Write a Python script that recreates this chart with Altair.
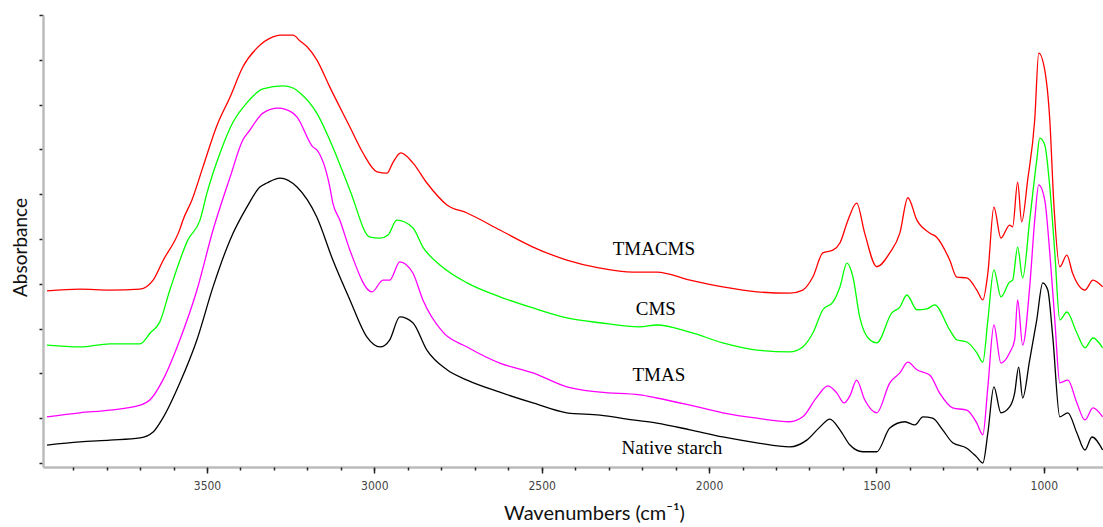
import altair as alt
import pandas as pd

# ---- data (wavenumber cm-1, absorbance a.u.) ----
tmacms_wn = [3978, 3880, 3790, 3700, 3661, 3632, 3581, 3572, 3545, 3512, 3470, 3431, 3393, 3351, 3303,
             3282, 3243, 3222, 3201, 3172, 3133, 3073, 3034, 2992, 2962, 2945, 2921, 2885, 2843, 2783,
             2723, 2625, 2526, 2425, 2326, 2228, 2156, 2057, 1959, 1857, 1759, 1720, 1690, 1660, 1630,
             1609, 1585, 1559, 1535, 1499, 1460, 1430, 1406, 1379, 1340, 1320, 1281, 1260, 1230, 1200,
             1182, 1167, 1149, 1128, 1102, 1093, 1078, 1066, 1048, 1027, 1015, 997, 982, 970, 952,
             931, 914, 877, 853, 824]
tmacms_abs = [0.384, 0.388, 0.386, 0.388, 0.408, 0.451, 0.522, 0.542, 0.587, 0.661, 0.754, 0.817, 0.884, 0.926, 0.951,
              0.955, 0.955, 0.942, 0.929, 0.900, 0.839, 0.750, 0.692, 0.650, 0.647, 0.670, 0.692, 0.670, 0.625, 0.576,
              0.558, 0.520, 0.482, 0.453, 0.435, 0.426, 0.426, 0.408, 0.393, 0.382, 0.379, 0.386, 0.415, 0.469, 0.475,
              0.491, 0.542, 0.580, 0.513, 0.438, 0.469, 0.513, 0.592, 0.542, 0.513, 0.504, 0.453, 0.415, 0.413, 0.386,
              0.364, 0.424, 0.571, 0.502, 0.531, 0.527, 0.627, 0.538, 0.632, 0.766, 0.915, 0.877, 0.766, 0.580, 0.438,
              0.464, 0.424, 0.386, 0.408, 0.393]

cms_wn = [3978, 3880, 3790, 3700, 3670, 3641, 3611, 3557, 3521, 3500, 3461, 3422, 3381, 3333, 3273,
          3243, 3222, 3172, 3124, 3073, 3013, 2983, 2959, 2933, 2885, 2855, 2804, 2723, 2625, 2526,
          2425, 2326, 2207, 2156, 2057, 1959, 1857, 1759, 1720, 1690, 1660, 1630, 1609, 1588, 1570,
          1550, 1520, 1499, 1454, 1430, 1409, 1379, 1349, 1326, 1281, 1260, 1230, 1200, 1182, 1167,
          1149, 1128, 1102, 1093, 1078, 1063, 1042, 1021, 1012, 997, 982, 967, 952, 931, 901,
          877, 853, 824]
cms_abs = [0.263, 0.259, 0.266, 0.266, 0.290, 0.315, 0.386, 0.498, 0.542, 0.603, 0.692, 0.761, 0.804, 0.835, 0.842,
           0.837, 0.826, 0.781, 0.705, 0.609, 0.504, 0.502, 0.509, 0.542, 0.525, 0.482, 0.442, 0.402, 0.371, 0.346,
           0.324, 0.313, 0.304, 0.308, 0.292, 0.268, 0.252, 0.248, 0.259, 0.290, 0.342, 0.359, 0.393, 0.446, 0.415,
           0.326, 0.275, 0.268, 0.335, 0.348, 0.375, 0.342, 0.344, 0.353, 0.297, 0.275, 0.270, 0.246, 0.225, 0.319,
           0.431, 0.371, 0.404, 0.408, 0.482, 0.413, 0.542, 0.676, 0.725, 0.710, 0.616, 0.469, 0.319, 0.337, 0.290,
           0.257, 0.279, 0.257]

tmas_wn = [3978, 3880, 3790, 3700, 3670, 3632, 3581, 3530, 3482, 3431, 3393, 3372, 3351, 3333, 3288,
           3243, 3231, 3183, 3172, 3133, 3124, 3103, 3073, 3007, 2974, 2954, 2924, 2885, 2855, 2795,
           2723, 2625, 2526, 2425, 2326, 2207, 2156, 2057, 1959, 1857, 1759, 1720, 1678, 1645, 1618,
           1597, 1579, 1559, 1535, 1499, 1460, 1430, 1406, 1379, 1340, 1311, 1272, 1230, 1200, 1182,
           1167, 1149, 1128, 1102, 1087, 1078, 1063, 1042, 1027, 1015, 997, 982, 967, 952, 928,
           901, 877, 853, 824]
tmas_abs = [0.103, 0.112, 0.118, 0.129, 0.141, 0.185, 0.275, 0.386, 0.520, 0.638, 0.721, 0.743, 0.766, 0.781, 0.792,
            0.781, 0.772, 0.705, 0.699, 0.616, 0.580, 0.542, 0.475, 0.382, 0.408, 0.408, 0.449, 0.424, 0.364, 0.292,
            0.259, 0.223, 0.201, 0.170, 0.158, 0.152, 0.145, 0.129, 0.112, 0.100, 0.092, 0.103, 0.147, 0.172, 0.156,
            0.134, 0.150, 0.185, 0.141, 0.112, 0.179, 0.201, 0.225, 0.208, 0.196, 0.156, 0.123, 0.118, 0.089, 0.063,
            0.170, 0.308, 0.223, 0.246, 0.275, 0.364, 0.263, 0.393, 0.542, 0.621, 0.587, 0.469, 0.319, 0.179, 0.185,
            0.134, 0.096, 0.123, 0.103]

native_wn = [3978, 3880, 3790, 3700, 3661, 3632, 3581, 3530, 3482, 3431, 3381, 3342, 3321, 3282, 3231,
             3172, 3124, 3073, 3022, 2983, 2954, 2924, 2885, 2843, 2783, 2723, 2625, 2526, 2425, 2326,
             2228, 2156, 2057, 1959, 1857, 1759, 1708, 1669, 1639, 1609, 1579, 1541, 1499, 1460, 1415,
             1385, 1361, 1332, 1302, 1272, 1230, 1200, 1182, 1167, 1149, 1128, 1102, 1087, 1075, 1063,
             1042, 1021, 1003, 988, 973, 952, 928, 901, 877, 856, 824]
native_abs = [0.040, 0.047, 0.051, 0.056, 0.069, 0.100, 0.179, 0.275, 0.393, 0.498, 0.571, 0.616, 0.625, 0.636, 0.616,
              0.549, 0.453, 0.364, 0.281, 0.259, 0.275, 0.326, 0.313, 0.252, 0.208, 0.185, 0.158, 0.134, 0.112, 0.107,
              0.096, 0.089, 0.074, 0.058, 0.045, 0.036, 0.051, 0.080, 0.098, 0.074, 0.040, 0.025, 0.025, 0.078, 0.092,
              0.085, 0.103, 0.100, 0.074, 0.045, 0.033, 0.013, 0.000, 0.067, 0.170, 0.112, 0.125, 0.156, 0.214, 0.145,
              0.230, 0.319, 0.402, 0.386, 0.281, 0.103, 0.112, 0.067, 0.029, 0.058, 0.029]

series_names = ["TMACMS", "CMS", "TMAS", "Native starch"]
series_colors = ["#ff0000", "#00ff00", "#ff00ff", "#000000"]

label_text = ["TMACMS", "CMS", "TMAS", "Native starch"]
label_wn = [2165, 2159, 2150, 2111]
label_abs = [0.478, 0.344, 0.196, 0.033]

major_ticks = [1000, 1500, 2000, 2500, 3000, 3500]
minor_ticks = list(range(900, 4000, 100))
y_ticks = [0.0, 0.1, 0.2, 0.3, 0.4, 0.5, 0.6, 0.7, 0.8, 0.9, 1.0]

# ---- build table ----
rows = []
for name, wn, ab in zip(series_names,
                        [tmacms_wn, cms_wn, tmas_wn, native_wn],
                        [tmacms_abs, cms_abs, tmas_abs, native_abs]):
    for w, a in zip(wn, ab):
        rows.append({"series": name, "wn": w, "abs": a})
df = pd.DataFrame(rows)
labels_df = pd.DataFrame({"text": label_text, "wn": label_wn, "abs": label_abs})

x_scale = alt.Scale(domain=[823, 3990], reverse=True, nice=False, zero=False)
y_scale = alt.Scale(domain=[-0.009, 1.0], nice=False, zero=False)

# minor ticks (every 100 cm-1) drawn by an invisible layer's own axis
minor = alt.Chart(df).mark_line(opacity=0).encode(
    x=alt.X("wn:Q", scale=x_scale,
            axis=alt.Axis(values=minor_ticks, orient="bottom", labels=False, title=None,
                          domain=False, grid=False, tickSize=3, tickColor="#222222", tickWidth=1.5)),
    y=alt.Y("abs:Q", scale=y_scale, axis=None),
    detail="series:N",
)

lines = alt.Chart(df).mark_line(strokeWidth=1.3, interpolate="monotone").encode(
    x=alt.X("wn:Q", scale=x_scale,
            axis=alt.Axis(values=major_ticks, orient="bottom", title="Wavenumbers (cm⁻¹)", format="d",
                          labelFont="Liberation Sans Narrow, DejaVu Sans Condensed, sans-serif",
                          labelFontSize=12, labelColor="#444444", labelPadding=7,
                          tickSize=6, tickColor="#222222", tickWidth=1.5,
                          domainColor="#bbbbbb", domainWidth=2.5, grid=False,
                          titleFont="Lato", titleFontSize=20, titleFontWeight="normal",
                          titleColor="#111111", titlePadding=12, titleX=551)),
    y=alt.Y("abs:Q", scale=y_scale,
            axis=alt.Axis(values=y_ticks, labels=False, tickSize=4, tickColor="#222222", tickWidth=1.5,
                          domainColor="#bbbbbb", domainWidth=2.5, grid=False,
                          title="Absorbance", titleFont="Lato", titleFontSize=19,
                          titleFontWeight="normal", titleColor="#111111", titlePadding=8,
                          titleY=232)),
    color=alt.Color("series:N", scale=alt.Scale(domain=series_names, range=series_colors), legend=None),
    detail="series:N",
)

texts = alt.Chart(labels_df).mark_text(font="Liberation Serif", fontSize=19, color="#000000",
                                       baseline="middle", align="center").encode(
    x=alt.X("wn:Q", scale=x_scale, axis=None),
    y=alt.Y("abs:Q", scale=y_scale, axis=None),
    text="text:N",
)

chart = alt.layer(lines, minor, texts).resolve_axis(x="independent", y="independent").properties(
    width=1060, height=452,
    autosize=alt.AutoSizeParams(type="none"),
    padding={"left": 43, "top": 15, "right": 0, "bottom": 60},
    background="white",
).configure_view(stroke=None)

chart.save("out.html", embed_options={"renderer": "svg", "actions": False})
